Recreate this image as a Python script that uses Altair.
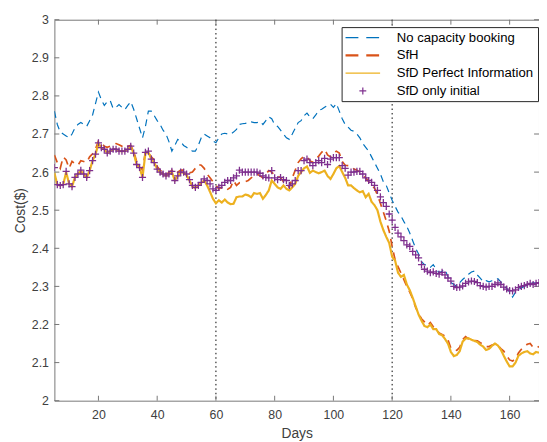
import altair as alt
import pandas as pd

days = list(range(5, 171))

no_capacity = [
    2.760, 2.725, 2.705, 2.700, 2.695, 2.690, 2.700, 2.716, 2.725, 2.730,
    2.725, 2.720, 2.735, 2.750, 2.780, 2.810, 2.790, 2.775, 2.785, 2.788,
    2.767, 2.770, 2.777, 2.770, 2.764, 2.775, 2.785, 2.765, 2.740, 2.715,
    2.690, 2.720, 2.760, 2.760, 2.748, 2.735, 2.725, 2.710, 2.700, 2.680,
    2.655, 2.670, 2.686, 2.680, 2.670, 2.665, 2.660, 2.655, 2.655, 2.670,
    2.690, 2.700, 2.695, 2.690, 2.682, 2.677, 2.690, 2.700, 2.702, 2.700,
    2.700, 2.705, 2.712, 2.725, 2.727, 2.728, 2.730, 2.732, 2.730, 2.730,
    2.733, 2.725, 2.735, 2.745, 2.740, 2.725, 2.720, 2.710, 2.700, 2.690,
    2.686, 2.700, 2.715, 2.730, 2.735, 2.748, 2.755, 2.745, 2.740, 2.750,
    2.762, 2.765, 2.770, 2.775, 2.778, 2.770, 2.780, 2.760, 2.740, 2.725,
    2.718, 2.710, 2.707, 2.700, 2.690, 2.675, 2.665, 2.655, 2.640, 2.625,
    2.610, 2.595, 2.575, 2.565, 2.545, 2.526, 2.510, 2.495, 2.485, 2.470,
    2.457, 2.440, 2.420, 2.400, 2.385, 2.365, 2.357, 2.356, 2.350, 2.357,
    2.345, 2.336, 2.340, 2.345, 2.325, 2.310, 2.305, 2.300, 2.310, 2.318,
    2.325, 2.332, 2.338, 2.340, 2.330, 2.322, 2.312, 2.315, 2.312, 2.315,
    2.318, 2.320, 2.312, 2.300, 2.295, 2.285, 2.272, 2.285, 2.292, 2.296,
    2.300, 2.303, 2.306, 2.310, 2.308, 2.312,
]

sfh = [
    2.645, 2.625, 2.610, 2.640, 2.632, 2.610, 2.628, 2.622, 2.618, 2.630,
    2.628, 2.625, 2.640, 2.648, 2.660, 2.682, 2.675, 2.668, 2.665, 2.668,
    2.672, 2.675, 2.672, 2.668, 2.662, 2.668, 2.670, 2.655, 2.628, 2.618,
    2.605, 2.655, 2.650, 2.640, 2.632, 2.615, 2.605, 2.600, 2.595, 2.598,
    2.605, 2.595, 2.600, 2.605, 2.605, 2.600, 2.598, 2.600, 2.610, 2.620,
    2.618, 2.610, 2.595, 2.585, 2.575, 2.565, 2.556, 2.560, 2.562, 2.555,
    2.560, 2.578, 2.565, 2.572, 2.573, 2.575, 2.578, 2.585, 2.590, 2.595,
    2.590, 2.585, 2.595, 2.604, 2.600, 2.592, 2.590, 2.585, 2.575, 2.568,
    2.560, 2.585, 2.605, 2.625, 2.635, 2.642, 2.640, 2.630, 2.625, 2.635,
    2.642, 2.652, 2.660, 2.645, 2.640, 2.650, 2.655, 2.650, 2.628, 2.618,
    2.617, 2.616, 2.608, 2.605, 2.600, 2.592, 2.585, 2.575, 2.565, 2.558,
    2.540, 2.518, 2.495, 2.472, 2.445, 2.405, 2.370, 2.352, 2.335, 2.318,
    2.300, 2.285, 2.268, 2.245, 2.228, 2.215, 2.207, 2.198, 2.205, 2.194,
    2.185, 2.178, 2.174, 2.170, 2.160, 2.138, 2.133, 2.132, 2.140, 2.160,
    2.168, 2.162, 2.160, 2.158, 2.157, 2.152, 2.148, 2.142, 2.142, 2.146,
    2.148, 2.145, 2.137, 2.130, 2.118, 2.107, 2.104, 2.110, 2.125, 2.135,
    2.142, 2.148, 2.150, 2.140, 2.138, 2.142,
]

sfd_perfect = [
    2.598, 2.567, 2.565, 2.567, 2.600, 2.570, 2.562, 2.586, 2.595, 2.603,
    2.595, 2.586, 2.604, 2.630, 2.647, 2.675, 2.664, 2.660, 2.650, 2.655,
    2.660, 2.660, 2.655, 2.655, 2.655, 2.660, 2.666, 2.650, 2.620, 2.612,
    2.586, 2.650, 2.652, 2.634, 2.625, 2.608, 2.600, 2.595, 2.590, 2.595,
    2.600, 2.578, 2.590, 2.600, 2.598, 2.592, 2.578, 2.562, 2.558, 2.565,
    2.572, 2.578, 2.565, 2.548, 2.530, 2.518, 2.526, 2.520, 2.528, 2.520,
    2.516, 2.517, 2.534, 2.536, 2.536, 2.541, 2.539, 2.534, 2.545, 2.543,
    2.545, 2.530, 2.540, 2.552, 2.578, 2.569, 2.560, 2.556, 2.565, 2.556,
    2.552, 2.560, 2.569, 2.590, 2.600, 2.610, 2.615, 2.598, 2.604, 2.600,
    2.597, 2.600, 2.604, 2.590, 2.582, 2.595, 2.610, 2.616, 2.600, 2.585,
    2.565, 2.565, 2.558, 2.552, 2.547, 2.550, 2.534, 2.543, 2.522, 2.513,
    2.500, 2.470, 2.448, 2.430, 2.414, 2.378, 2.368, 2.336, 2.325, 2.330,
    2.305, 2.290, 2.270, 2.248, 2.226, 2.210, 2.196, 2.193, 2.200, 2.188,
    2.188, 2.175, 2.172, 2.162, 2.150, 2.128, 2.117, 2.120, 2.130, 2.155,
    2.163, 2.164, 2.160, 2.157, 2.154, 2.147, 2.142, 2.133, 2.136, 2.144,
    2.150, 2.145, 2.134, 2.118, 2.103, 2.090, 2.090, 2.100, 2.118, 2.124,
    2.128, 2.130, 2.124, 2.122, 2.128, 2.126,
]

sfd_initial = [
    2.612, 2.567, 2.565, 2.567, 2.602, 2.569, 2.562, 2.586, 2.595, 2.605,
    2.595, 2.586, 2.604, 2.630, 2.647, 2.677, 2.664, 2.660, 2.650, 2.655,
    2.660, 2.660, 2.655, 2.655, 2.655, 2.660, 2.668, 2.650, 2.620, 2.612,
    2.586, 2.652, 2.655, 2.634, 2.625, 2.608, 2.600, 2.595, 2.590, 2.595,
    2.602, 2.578, 2.590, 2.600, 2.600, 2.595, 2.580, 2.565, 2.560, 2.565,
    2.573, 2.582, 2.578, 2.569, 2.556, 2.552, 2.560, 2.565, 2.573, 2.578,
    2.578, 2.585, 2.590, 2.605, 2.600, 2.600, 2.600, 2.600, 2.600, 2.600,
    2.597, 2.590, 2.586, 2.585, 2.604, 2.585, 2.580, 2.586, 2.580, 2.578,
    2.565, 2.569, 2.578, 2.604, 2.604, 2.630, 2.634, 2.625, 2.617, 2.625,
    2.630, 2.625, 2.636, 2.620, 2.634, 2.638, 2.638, 2.638, 2.617, 2.610,
    2.592, 2.600, 2.600, 2.602, 2.602, 2.595, 2.585, 2.578, 2.573, 2.565,
    2.552, 2.535, 2.520, 2.510, 2.490, 2.474, 2.455, 2.440, 2.430, 2.420,
    2.409, 2.405, 2.392, 2.383, 2.375, 2.357, 2.345, 2.340, 2.336, 2.338,
    2.334, 2.332, 2.337, 2.330, 2.322, 2.314, 2.300, 2.297, 2.298, 2.301,
    2.308, 2.312, 2.314, 2.313, 2.310, 2.302, 2.300, 2.298, 2.300, 2.300,
    2.305, 2.309, 2.305, 2.298, 2.293, 2.289, 2.288, 2.291, 2.297, 2.300,
    2.302, 2.305, 2.308, 2.305, 2.308, 2.310,
]

series_names = ["No capacity booking", "SfH", "SfD Perfect Information", "SfD only initial"]
series_colors = ["#0072BD", "#D95319", "#EDB120", "#7E2F8E"]
x_ticks = [20, 40, 60, 80, 100, 120, 140, 160]
y_ticks = [2.0, 2.1, 2.2, 2.3, 2.4, 2.5, 2.6, 2.7, 2.8, 2.9, 3.0]
phase_days = [60, 120]

W, H = 491, 386
FONT = "Liberation Sans"
FRAME = "#777777"
TICK_LEN = 5
LEG_FONT = 13.3

rows = []
for name, vals in zip(series_names[:3], [no_capacity, sfh, sfd_perfect]):
    for d, v in zip(days, vals):
        rows.append({"day": d, "cost": v, "series": name})
lines_df = pd.DataFrame(rows)
pts_df = pd.DataFrame({"day": days, "cost": sfd_initial, "series": series_names[3]})
xt_df = pd.DataFrame({"day": x_ticks})
yt_df = pd.DataFrame({"cost": y_ticks})
ph_df = pd.DataFrame({"day": phase_days})

xscale = alt.Scale(domain=[5, 170], nice=False, zero=False)
yscale = alt.Scale(domain=[2, 3], nice=False, zero=False)


def xenc():
    return alt.X("day:Q", scale=xscale,
                 axis=alt.Axis(values=x_ticks, title="Days", format="d"))


def yenc():
    return alt.Y("cost:Q", scale=yscale,
                 axis=alt.Axis(values=y_ticks, title="Cost($)", format="~g"))


cscale = alt.Scale(domain=series_names, range=series_colors)

legend = alt.Legend(
    title=None, orient="none", legendX=291, legendY=7.5, direction="vertical",
    symbolType=alt.ExprRef(expr="datum.value === 'SfD only initial' ? 'M-0.2,0H0.2M0,-0.2V0.2' : 'stroke'"),
    symbolDash=alt.ExprRef(expr="datum.value === 'No capacity booking' || datum.value === 'SfH' ? [13, 8] : [1, 0]"),
    symbolStrokeWidth=alt.ExprRef(expr="datum.value === 'SfH' ? 2.4 : 1.2"),
    symbolSize=1225, symbolOffset=10.85,
    labelFont=FONT, labelFontSize=LEG_FONT, labelColor="#000000", labelOffset=27.7,
    padding=4, rowPadding=4, strokeColor="#262626", fillColor="white",
)

lines = alt.Chart(lines_df).mark_line(clip=True).encode(
    x=xenc(), y=yenc(),
    color=alt.Color("series:N", scale=cscale, legend=legend),
    strokeDash=alt.StrokeDash("series:N", scale=alt.Scale(domain=series_names[:3], range=[[7, 5], [8, 6], [1, 0]]), legend=None),
    strokeWidth=alt.StrokeWidth("series:N", scale=alt.Scale(domain=series_names[:3], range=[1.2, 2.2, 1.1]), legend=None),
    order=alt.Order("day:Q"),
)

points = alt.Chart(pts_df).mark_point(shape="M-1,0H1M0,-1V1", size=52, strokeWidth=1.3, opacity=1, clip=True).encode(
    x=xenc(), y=yenc(),
    color=alt.Color("series:N", scale=cscale, legend=legend),
)

phase = alt.Chart(ph_df).mark_rule(color="#000000", strokeDash=[1.5, 3], strokeWidth=1).encode(x=xenc())

xt_bottom = alt.Chart(xt_df).mark_rule(color=FRAME, strokeWidth=1).encode(x=xenc(), y=alt.value(H), y2=alt.value(H - TICK_LEN))
xt_top = alt.Chart(xt_df).mark_rule(color=FRAME, strokeWidth=1).encode(x=xenc(), y=alt.value(0), y2=alt.value(TICK_LEN))
yt_left = alt.Chart(yt_df).mark_rule(color=FRAME, strokeWidth=1).encode(y=yenc(), x=alt.value(0), x2=alt.value(TICK_LEN))
yt_right = alt.Chart(yt_df).mark_rule(color=FRAME, strokeWidth=1).encode(y=yenc(), x=alt.value(W), x2=alt.value(W - TICK_LEN))

chart = alt.layer(phase, xt_bottom, xt_top, yt_left, yt_right, lines, points).properties(
    width=W, height=H,
    autosize=alt.AutoSizeParams(type="none"),
    padding={"left": 47, "top": 9, "right": 0, "bottom": 40},
    background="white",
).configure_view(
    stroke=FRAME, strokeWidth=1,
).configure_axis(
    domain=False, ticks=False, grid=False,
    labelFont=FONT, labelFontSize=12.5, labelColor="#404040",
    titleFont=FONT, titleFontSize=14, titleFontWeight="normal", titleColor="#404040",
).configure_axisX(
    labelPadding=8, titlePadding=6,
).configure_axisY(
    labelPadding=6, titlePadding=4,
)

chart.save("out.html", embed_options={"renderer": "svg", "actions": False})
